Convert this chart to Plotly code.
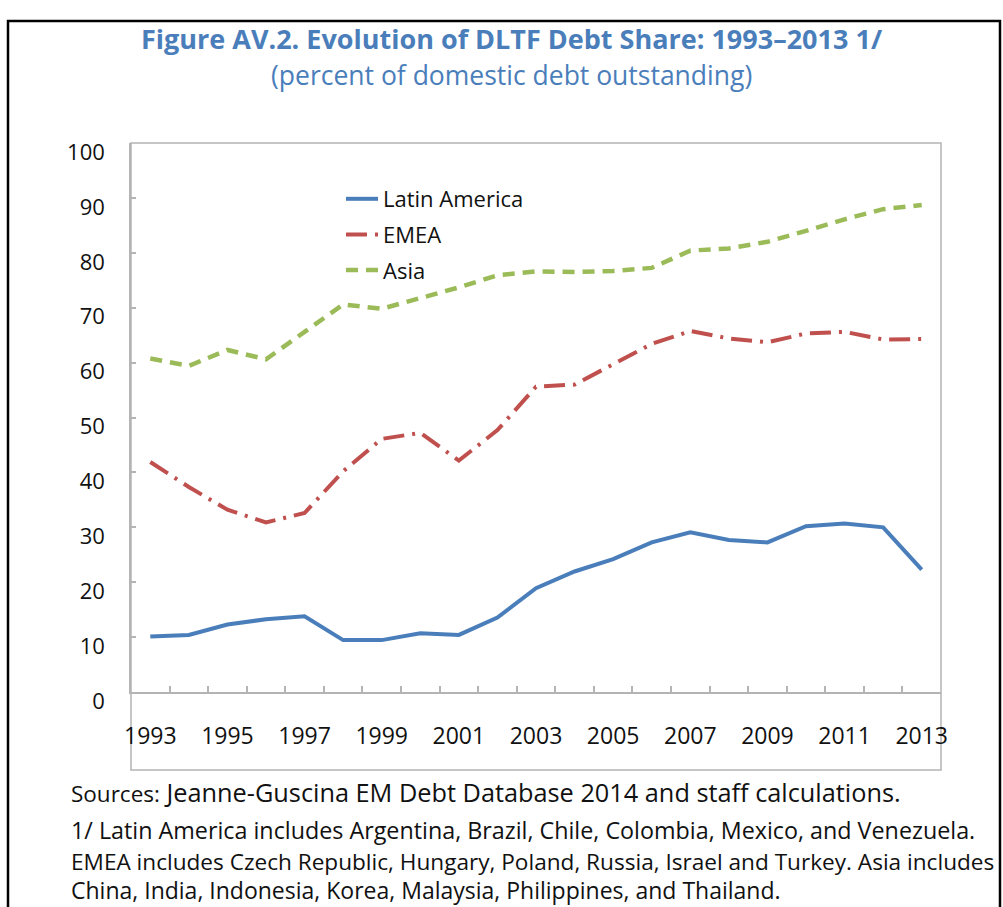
import plotly.graph_objects as go

years = list(range(1993, 2014))
latin_america = [10.1, 10.4, 12.3, 13.25, 13.8, 9.45, 9.45, 10.7, 10.4, 13.55, 18.9,
                 21.95, 24.2, 27.25, 29.1, 27.7, 27.25, 30.2, 30.7, 30.0, 22.3]
emea = [41.9, 37.35, 33.2, 30.9, 32.6, 40.2, 46.1, 47.2, 42.15, 47.7, 55.6,
        56.0, 59.7, 63.4, 65.75, 64.4, 63.7, 65.3, 65.6, 64.2, 64.3]
asia = [60.75, 59.4, 62.3, 60.6, 65.6, 70.6, 69.8, 71.7, 73.7, 75.9, 76.6,
        76.5, 76.7, 77.25, 80.4, 80.8, 82.0, 84.0, 86.1, 87.95, 88.7]
label_years = years[::2]
y_ticks = list(range(0, 101, 10))

title_text = "Figure AV.2. Evolution of DLTF Debt Share: 1993\u20132013 1/"
subtitle_text = "(percent of domestic debt outstanding)"
source_text = "Sources:"
source_rest = " Jeanne-Guscina EM Debt Database 2014 and staff calculations."
notes = [
    "1/ Latin America includes Argentina, Brazil, Chile, Colombia, Mexico, and Venezuela.",
    "EMEA includes Czech Republic, Hungary, Poland, Russia, Israel and Turkey. Asia includes",
    "China, India, Indonesia, Korea, Malaysia, Philippines, and Thailand.",
]

FONT = "Open Sans"
W, H = 1003, 907
L, R, T, B = 131, 941, 143, 692  # plot area pixel box


def px(x):
    return (x - L) / (R - L)


def py(y):
    return (B - y) / (B - T)


fig = go.Figure()
fig.add_trace(go.Scatter(x=years, y=latin_america, name="Latin America", mode="lines",
                         line=dict(color="#4A7EBB", width=4), legendgroup="a"))
fig.add_trace(go.Scatter(x=years, y=emea, name="EMEA", mode="lines",
                         line=dict(color="#C0504D", width=4, dash="21px,8px,3px,8px"),
                         legendgroup="b"))
fig.add_trace(go.Scatter(x=years, y=asia, name="Asia", mode="lines",
                         line=dict(color="#9BBB59", width=4.5, dash="12px,8px"),
                         legendgroup="c"))

axis_gray = "#B4B4B4"
fig.update_layout(
    width=W, height=H,
    margin=dict(l=L, r=W - R, t=T, b=H - B, pad=0),
    paper_bgcolor="white", plot_bgcolor="white",
    font=dict(family=FONT, color="#111111"),
    showlegend=True,
    legend=dict(x=px(341), y=py(178), xanchor="left", yanchor="top",
                bgcolor="rgba(0,0,0,0)", font=dict(size=22, family=FONT, color="#111111"),
                tracegroupgap=4, itemwidth=32),
    xaxis=dict(range=[1992.5, 2013.5], tickmode="array", tickvals=label_years,
               ticktext=[str(y) for y in label_years], ticks="inside", ticklen=0,
               tickfont=dict(size=23, family=FONT, color="#111111"),
               ticklabelstandoff=23,
               showline=True, linecolor=axis_gray, linewidth=1.5,
               showgrid=False, zeroline=False,
               minor=dict(ticks="inside", ticklen=6, tickcolor=axis_gray, tickwidth=1.5,
                          tick0=1992.5, dtick=1, showgrid=False)),
    yaxis=dict(range=[0, 100], tickmode="array", tickvals=y_ticks,
               ticks="inside", ticklen=5, tickcolor=axis_gray, tickwidth=1.5,
               tickfont=dict(size=22, family=FONT, color="#111111"),
               ticklabelstandoff=20, ticklabelshift=9,
               showline=True, linecolor=axis_gray, linewidth=1.5,
               showgrid=False, zeroline=False),
)

# outer black frame and grey chart-area frame
fig.add_shape(type="rect", xref="paper", yref="paper",
              x0=px(8), x1=px(1000), y0=py(990), y1=py(21),
              line=dict(color="black", width=2.5), layer="below")
fig.add_shape(type="rect", xref="paper", yref="paper",
              x0=px(131), x1=px(941), y0=py(770), y1=py(143),
              line=dict(color=axis_gray, width=1.5), layer="below")

fig.add_annotation(text="<b>" + title_text + "</b>", xref="paper", yref="paper",
                   x=px(512), y=py(38), xanchor="center", yanchor="middle", showarrow=False,
                   font=dict(size=27, family=FONT, color="#4A7EBB"))
fig.add_annotation(text=subtitle_text, xref="paper", yref="paper",
                   x=px(511), y=py(75), xanchor="center", yanchor="middle", showarrow=False,
                   font=dict(size=26.5, family=FONT, color="#4A7EBB"))
fig.add_annotation(text="<span style='font-size:22.5px'>" + source_text + "</span>" + source_rest,
                   xref="paper", yref="paper", x=px(69), y=py(792), xanchor="left",
                   yanchor="middle", showarrow=False,
                   font=dict(size=25.3, family=FONT, color="#111111"))
note_sizes = [23.3, 22.6, 23.0]
for line, yc, fs in zip(notes, [830, 861, 890], note_sizes):
    fig.add_annotation(text=line, xref="paper", yref="paper", x=px(69), y=py(yc),
                       xanchor="left", yanchor="middle", showarrow=False,
                       font=dict(size=fs, family=FONT, color="#111111"))

fig.write_html("out.html", post_script="document.body.style.margin='0';",
               config={"displayModeBar": False})
